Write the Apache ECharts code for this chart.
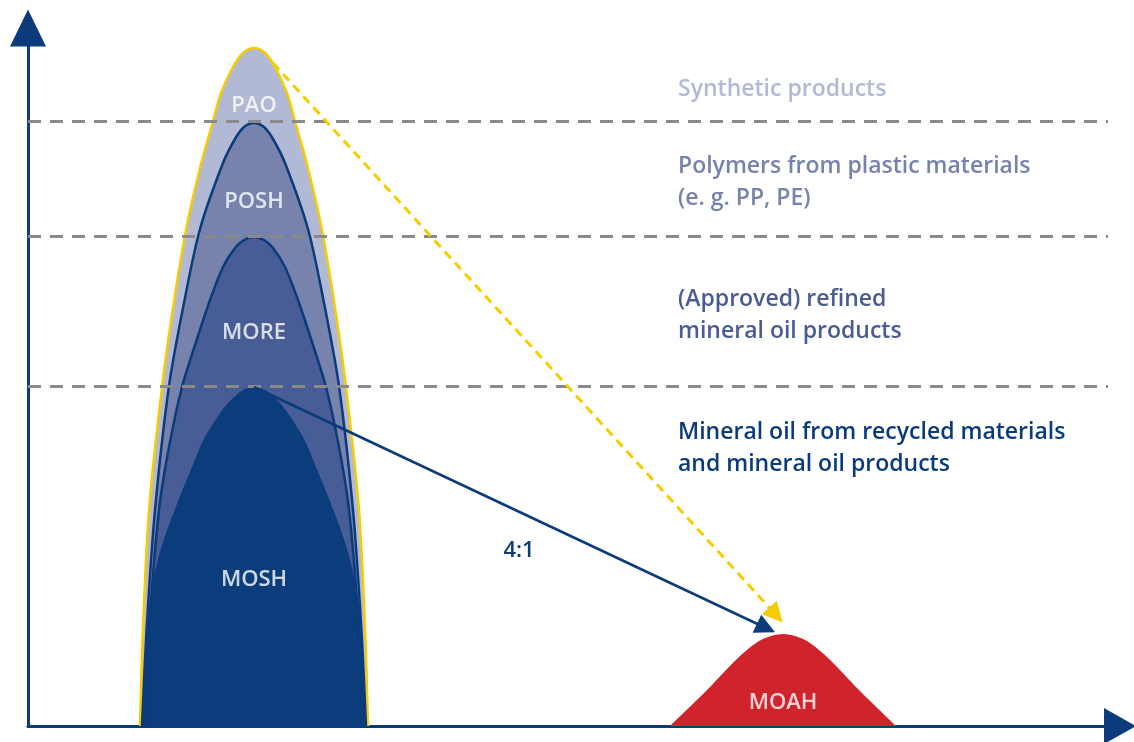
<!DOCTYPE html>
<html>
<head>
<meta charset="utf-8">
<script src="https://cdn.jsdelivr.net/npm/echarts@6/dist/echarts.min.js"></script>
<style>
  html, body { margin: 0; padding: 0; background: #fff; }
  #main { width: 1134px; height: 742px; }
</style>
</head>
<body>
<div id="main"></div>
<script>
// peak outlines, [position, height]
const pao = [[112, 0], [115, 98], [121, 216], [134, 339], [145, 418], [158, 496], [172, 558], [185, 605], [193, 633], [205, 659], [215, 673], [226, 678],
  [237, 673], [247, 659], [259, 633], [267, 605], [280, 558], [294, 496], [307, 418], [318, 339], [331, 216], [337, 98], [340, 0]];
const posh = [[114, 0], [119, 103], [127, 216], [141, 340], [156, 423], [172, 497], [195, 563], [207, 587], [216, 599], [226, 603],
  [236, 599], [245, 587], [257, 563], [280, 497], [296, 423], [311, 340], [325, 216], [333, 103], [338, 0]];
const more = [[117, 0], [122, 109], [131, 216], [141, 279], [154, 339], [168, 384], [182, 426], [195, 459], [207, 478], [216, 486], [226, 489],
  [236, 486], [245, 478], [257, 459], [270, 426], [284, 384], [298, 339], [311, 279], [321, 216], [330, 109], [335, 0]];
const mosh = [[114, 0], [117, 59], [122, 127], [132, 174], [147, 217], [162, 254], [176, 287], [195, 317], [206, 329], [215, 336], [226, 339],
  [237, 336], [246, 329], [257, 317], [276, 287], [290, 254], [305, 217], [320, 174], [330, 127], [335, 59], [338, 0]];
const moah = [[642, 0], [679, 36], [711, 69], [733, 86], [755, 92], [777, 86], [799, 69], [831, 36], [868, 0]];

// dashed boundaries between the groups
const levels = [605, 490, 340];
const levelEnd = 1080;

// names shown in the peaks
const peakNames = ["PAO", "POSH", "MORE", "MOSH", "MOAH"];
const peakLabelPos = [[226, 620], [226, 524], [226, 393], [226, 146], [755, 23]];

// right hand legend text
const groupTexts = [
  ["Synthetic products"],
  ["Polymers from plastic materials", "(e. g. PP, PE)"],
  ["(Approved) refined", "mineral oil products"],
  ["Mineral oil from recycled materials", "and mineral oil products"],
];
const groupColors = ["#b1b9d5", "#7782ad", "#485c95", "#0b3b7b"];
const groupTop = [89, 166, 299, 432];

const navy = "#0b3b7b";
const yellow = "#f7cc00";

const chart = echarts.init(document.getElementById("main"));

const peak = (name, data, fill, line) => ({
  name: name,
  type: "line",
  data: data,
  smooth: 0.3,
  showSymbol: false,
  silent: true,
  lineStyle: line ? { color: line, width: 2.5 } : { width: 0 },
  areaStyle: { color: fill, opacity: 1 },
});

// text graphics
const graphic = [];
groupTexts.forEach((lines, i) => {
  lines.forEach((t, j) => {
    graphic.push({
      type: "text",
      x: 678,
      y: groupTop[i] + j * 32,
      style: {
        text: t,
        fill: groupColors[i],
        font: '600 23px "Open Sans"',
        textVerticalAlign: "middle",
      },
    });
  });
});
graphic.push({
  type: "text",
  x: 519,
  y: 551,
  style: {
    text: "4:1",
    fill: navy,
    font: '600 22px "Open Sans"',
    textAlign: "center",
    textVerticalAlign: "middle",
  },
});

const option = {
  animation: false,
  grid: { left: 28, right: 14, top: 28, bottom: 16 },
  xAxis: {
    type: "value",
    min: 0,
    max: 1092,
    splitLine: { show: false },
    axisTick: { show: false },
    axisLabel: { show: false },
    axisLine: {
      lineStyle: { color: navy, width: 3 },
      symbol: ["none", "triangle"],
      symbolSize: [36, 32],
    },
  },
  yAxis: {
    type: "value",
    min: 0,
    max: 698,
    splitLine: { show: false },
    axisTick: { show: false },
    axisLabel: { show: false },
    axisLine: {
      lineStyle: { color: navy, width: 3 },
      symbol: ["none", "triangle"],
      symbolSize: [36, 37],
    },
  },
  graphic: graphic,
  series: [
    peak("PAO", pao, "#b1b9d5", yellow),
    peak("POSH", posh, "#7782ad", navy),
    peak("MORE", more, "#485c95", navy),
    peak("MOSH", mosh, "#0b3c7c", null),
    peak("MOAH", moah, "#d0232b", null),
    {
      // dashed level lines
      type: "line",
      data: [],
      z: 4,
      markLine: {
        silent: true,
        symbol: "none",
        label: { show: false },
        lineStyle: { color: "#8a8a8a", width: 3, type: [13, 9] },
        data: levels.map((v) => [{ coord: [0, v] }, { coord: [levelEnd, v] }]),
      },
    },
    {
      // arrows towards MOAH
      type: "line",
      data: [],
      z: 5,
      markLine: {
        silent: true,
        symbol: ["none", "triangle"],
        symbolSize: 20,
        label: { show: false },
        data: [
          [
            { coord: [245, 663], lineStyle: { color: yellow, width: 3, type: [9, 6] } },
            { coord: [748, 111] },
          ],
          [
            { coord: [226, 339], lineStyle: { color: navy, width: 2.5, type: "solid" } },
            { coord: [738, 98] },
          ],
        ],
      },
    },
    {
      // peak names
      type: "scatter",
      symbolSize: 0,
      silent: true,
      z: 6,
      data: peakNames.map((n, i) => ({ name: n, value: peakLabelPos[i] })),
      label: {
        show: true,
        position: "inside",
        formatter: "{b}",
        color: "#fff",
        fontSize: 22,
        fontWeight: 600,
        fontFamily: "Open Sans",
      },
    },
  ],
};

chart.setOption(option);
</script>
</body>
</html>
